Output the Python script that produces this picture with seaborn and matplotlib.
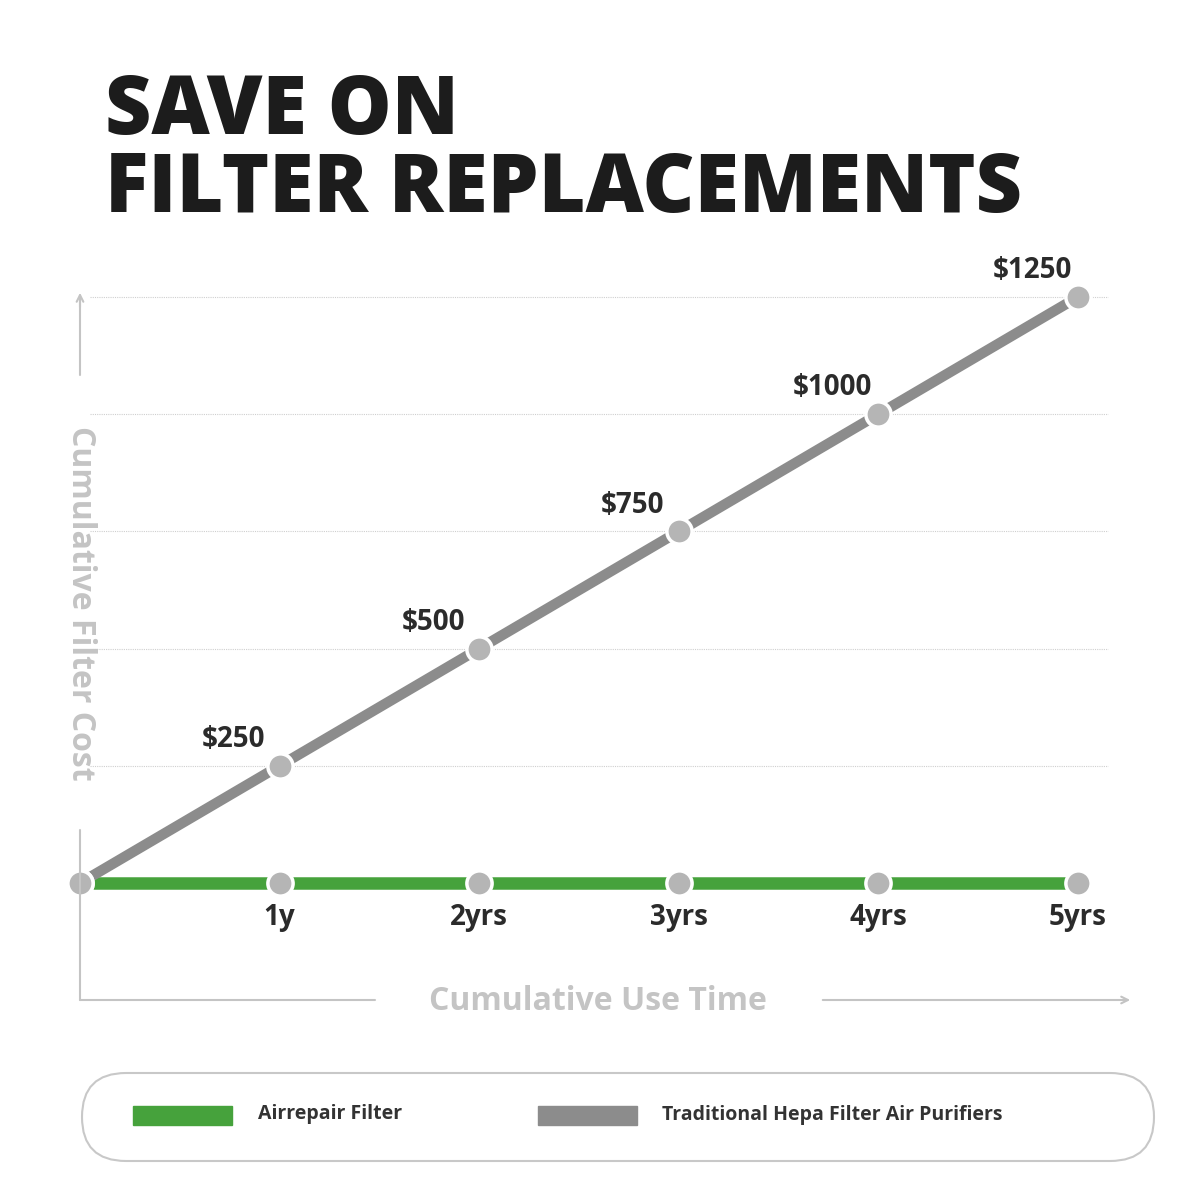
import matplotlib
matplotlib.use("Agg")
import matplotlib.pyplot as plt
import seaborn as sns
import pandas as pd
from matplotlib.patches import FancyBboxPatch, Rectangle

years = [0, 1, 2, 3, 4, 5]
tick_labels = ["1y", "2yrs", "3yrs", "4yrs", "5yrs"]
hepa_cost = [0, 250, 500, 750, 1000, 1250]
airrepair_cost = [0, 0, 0, 0, 0, 0]
cost_labels = ["$250", "$500", "$750", "$1000", "$1250"]

sns.set_theme(style="white")
plt.rcParams['font.family'] = ['Open Sans', 'DejaVu Sans']

W, H = 1200, 1197
fig = plt.figure(figsize=(W/100, H/100), dpi=100)
fig.patch.set_facecolor("white")

# main axes, pixel layout
L, R, T, B = 60, 1130, 260, 960
ax = fig.add_axes([L/W, (H-B)/H, (R-L)/W, (B-T)/H])
ax.set_xlim(-0.1002, 5.2605)
ax.set_ylim(-164.2, 1328.9)
ax.axis("off")

for g in [250, 500, 750, 1000, 1250]:
    ax.hlines(g, 0.05, 5.15, color="#cfcfcf", lw=0.8, ls=(0, (1, 1)), zorder=0)

df = pd.DataFrame({"year": years * 2,
                   "cost": hepa_cost + airrepair_cost,
                   "series": ["hepa"] * 6 + ["air"] * 6})
sns.lineplot(data=df[df.series == "air"], x="year", y="cost", color="#46a23c",
             lw=9, ax=ax, zorder=2, legend=False)
sns.lineplot(data=df[df.series == "hepa"], x="year", y="cost", color="#8c8c8c",
             lw=7.5, ax=ax, zorder=3, legend=False)
sns.scatterplot(data=df, x="year", y="cost", color="#b5b5b5", s=330,
                edgecolor="white", linewidth=2.5, ax=ax, zorder=4, legend=False)

for x, y, lab in zip(years[1:], hepa_cost[1:], cost_labels):
    ax.text(x - 0.23, y + 25, lab, ha="center", va="bottom", fontsize=20,
            fontweight="bold", color="#2b2b2b")
for x, lab in zip(years[1:], tick_labels):
    ax.text(x, -74.6, lab, ha="center", va="center", fontsize=20,
            fontweight="bold", color="#2b2b2b")

# overlay in pixel coords
ov = fig.add_axes([0, 0, 1, 1])
ov.set_xlim(0, W); ov.set_ylim(H, 0); ov.axis("off")
ov.patch.set_alpha(0)

ov.text(105, 152, "SAVE ON\nFILTER REPLACEMENTS", fontsize=58, fontweight="heavy",
        color="#1c1c1c", ha="left", va="center", linespacing=0.95)

axc = "#c4c4c4"
ov.plot([80, 80], [1000, 830], color=axc, lw=1.5)
ov.plot([80, 80], [375, 300], color=axc, lw=1.5)
ov.annotate("", xy=(80, 290), xytext=(80, 310),
            arrowprops=dict(arrowstyle="->", color=axc, lw=1.5))
ov.plot([80, 375], [1000, 1000], color=axc, lw=1.5)
ov.annotate("", xy=(1133, 1000), xytext=(820, 1000),
            arrowprops=dict(arrowstyle="->", color=axc, lw=1.5))
ov.text(80, 603, "Cumulative Filter Cost", rotation=-90, ha="center", va="center",
        fontsize=23, fontweight="bold", color=axc)
ov.text(598, 1002, "Cumulative Use Time", ha="center", va="center",
        fontsize=23, fontweight="bold", color=axc)

ov.add_patch(FancyBboxPatch((82, 1073), 1072, 88, boxstyle="round,pad=0,rounding_size=44",
                            fc="white", ec="#c8c8c8", lw=1.5))
ov.add_patch(Rectangle((133, 1106), 99, 19, color="#46a23c"))
ov.add_patch(Rectangle((538, 1106), 99, 19, color="#8c8c8c"))
ov.text(258, 1114, "Airrepair Filter", fontsize=14, fontweight="bold",
        color="#333333", va="center")
ov.text(662, 1115, "Traditional Hepa Filter Air Purifiers", fontsize=14,
        fontweight="bold", color="#333333", va="center")

fig.savefig("out.png", dpi=100, facecolor="white")
